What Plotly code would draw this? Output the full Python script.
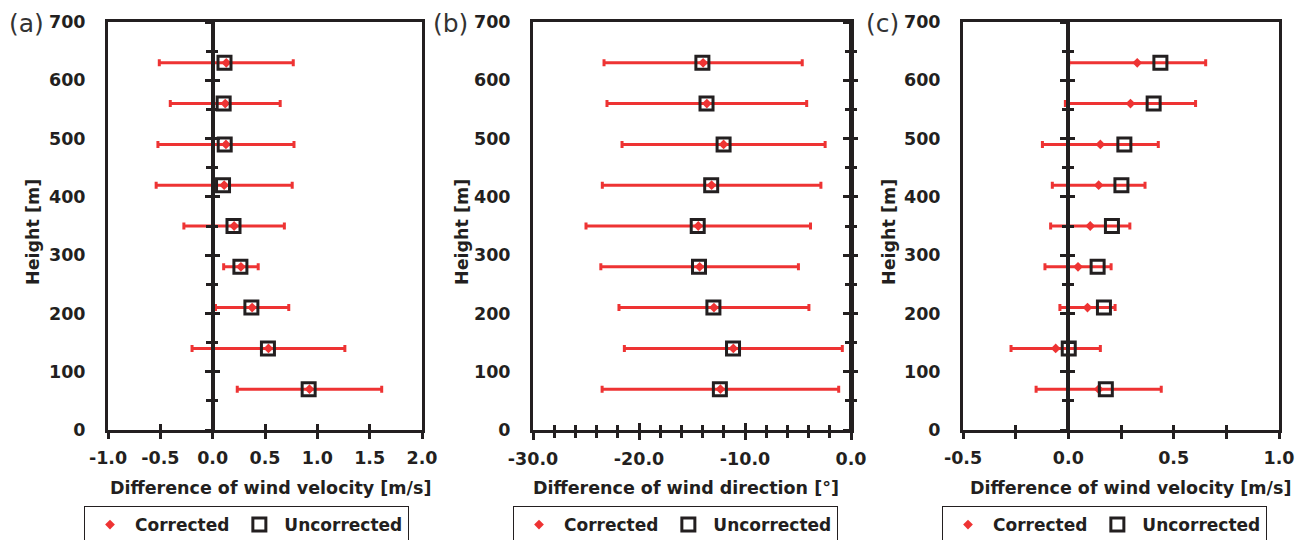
import plotly.graph_objects as go

W, H = 1305, 540
INK = "#231F20"
RED = "#EE3333"
BOLD = dict(family="DejaVu Sans", size=17.5, color=INK, weight="bold")

# ---------------- data ----------------
heights = [70, 140, 210, 280, 350, 420, 490, 560, 630]

# (a) wind velocity difference [m/s]
a_corrected = [0.925, 0.533, 0.377, 0.270, 0.205, 0.110, 0.127, 0.120, 0.130]
a_error = [0.69, 0.73, 0.35, 0.165, 0.48, 0.65, 0.65, 0.525, 0.64]
a_uncorrected = [0.917, 0.528, 0.370, 0.265, 0.199, 0.099, 0.115, 0.105, 0.113]

# (b) wind direction difference [deg]
b_corrected = [-12.32, -11.10, -12.93, -14.28, -14.41, -13.15, -12.02, -13.60, -13.95]
b_error = [11.16, 10.28, 8.96, 9.32, 10.59, 10.31, 9.58, 9.42, 9.35]
b_uncorrected = [-12.37, -11.13, -12.98, -14.34, -14.46, -13.19, -12.02, -13.63, -14.02]

# (c) wind velocity difference [m/s]
c_corrected = [0.144, -0.060, 0.091, 0.046, 0.104, 0.144, 0.152, 0.295, 0.327]
c_error = [0.297, 0.212, 0.131, 0.157, 0.188, 0.220, 0.275, 0.309, 0.325]
c_uncorrected = [0.178, 0.002, 0.169, 0.139, 0.207, 0.252, 0.266, 0.405, 0.437]

y_tickvals = [0, 100, 200, 300, 400, 500, 600, 700]
y_ticktext = ["0", "100", "200", "300", "400", "500", "600", "700"]

a_tickvals = [-1.0, -0.5, 0.0, 0.5, 1.0, 1.5, 2.0]
a_ticktext = ["-1.0", "-0.5", "0.0", "0.5", "1.0", "1.5", "2.0"]
b_tickvals = [-30, -20, -10, 0]
b_ticktext = ["-30.0", "-20.0", "-10.0", "0.0"]
c_tickvals = [-0.5, 0.0, 0.5, 1.0]
c_ticktext = ["-0.5", "0.0", "0.5", "1.0"]

series_names = ["Corrected", "Uncorrected"]
panel_labels = ["(a)", "(b)", "(c)"]
x_titles = ["Difference of wind velocity [m/s]",
            "Difference of wind direction [°]",
            "Difference of wind velocity [m/s]"]
y_title = "Height [m]"

# ---------------- layout geometry (pixels) ----------------
panels = [
    dict(corr=a_corrected, err=a_error, unc=a_uncorrected, xr=[-1, 2],
         tv=a_tickvals, tt=a_ticktext, minor=0.5, tl=6, mtl=6,
         px=(108, 422), ytx=33, xtx=270, lab=26, leg=84),
    dict(corr=b_corrected, err=b_error, unc=b_uncorrected, xr=[-30, 0],
         tv=b_tickvals, tt=b_ticktext, minor=2, tl=7, mtl=5,
         px=(533, 851), ytx=462, xtx=686, lab=450, leg=513),
    dict(corr=c_corrected, err=c_error, unc=c_uncorrected, xr=[-0.5, 1.0],
         tv=c_tickvals, tt=c_ticktext, minor=0.25, tl=5.5, mtl=5.5,
         px=(963, 1279), ytx=889, xtx=1130, lab=882, leg=942),
]
PY_TOP, PY_BOT = 22, 430
ydom = [1 - PY_BOT / H, 1 - PY_TOP / H]

fig = go.Figure()
layout = dict(template="none", width=W, height=H,
              margin=dict(l=0, r=0, t=0, b=0, autoexpand=False),
              plot_bgcolor="white", paper_bgcolor="white",
              showlegend=True, annotations=[])

for i, p in enumerate(panels):
    k = i + 1
    xs = "" if k == 1 else str(k)
    xid, yid = "x" + xs, "y" + xs
    legend_id = "legend" + xs
    xdom = [p["px"][0] / W, p["px"][1] / W]

    fig.add_trace(go.Scatter(
        x=p["corr"], y=heights, mode="markers", name=series_names[0],
        xaxis=xid, yaxis=yid, legend=legend_id,
        marker=dict(symbol="diamond", size=7.5, color=RED, line=dict(width=0)),
        error_x=dict(type="data", array=p["err"], visible=True,
                     color=RED, thickness=3, width=3.5),
    ))
    fig.add_trace(go.Scatter(
        x=p["unc"], y=heights, mode="markers", name=series_names[1],
        xaxis=xid, yaxis=yid, legend=legend_id,
        marker=dict(symbol="square-open", size=13, color=INK,
                    line=dict(width=3, color=INK)),
    ))

    minor = dict(tickmode="linear", tick0=p["xr"][0], dtick=p["minor"],
                 ticklen=p["mtl"], tickwidth=3, tickcolor=INK, showgrid=False)
    layout["xaxis" + xs] = dict(
        domain=xdom, range=p["xr"], anchor=yid, tickmode="array",
        tickvals=p["tv"], ticktext=p["tt"], ticks="outside", ticklen=p["tl"],
        tickwidth=3, tickcolor=INK, minor=dict(minor, ticks="outside"),
        showline=True, linewidth=3, linecolor=INK, mirror=True,
        showgrid=False, zeroline=False, tickfont=BOLD, ticklabelstandoff=4,
        automargin=False, fixedrange=True)
    layout["yaxis" + xs] = dict(
        domain=ydom, range=[0, 700], anchor=xid, tickmode="array",
        tickvals=y_tickvals, ticktext=y_ticktext, ticks="",
        showline=True, linewidth=3, linecolor=INK, mirror=True,
        showgrid=False, zeroline=False, tickfont=BOLD, ticklabelstandoff=16,
        automargin=False, fixedrange=True)

    # inward half of the crossing x ticks
    xo = str(4 + i)
    layout["xaxis" + xo] = dict(
        overlaying=xid, anchor=yid, side="bottom", range=p["xr"],
        tickmode="array", tickvals=p["tv"], ticks="inside", ticklen=p["tl"],
        tickwidth=3, tickcolor=INK, minor=dict(minor, ticks="inside"),
        showticklabels=False, showline=False, showgrid=False, zeroline=False,
        automargin=False, fixedrange=True)

    # vertical axis crossing at x = 0, with ticks on both sides
    zero_pos = (p["px"][0] + (0 - p["xr"][0]) / (p["xr"][1] - p["xr"][0])
                * (p["px"][1] - p["px"][0])) / W
    yminor = dict(tickmode="linear", tick0=0, dtick=50, ticklen=4.5,
                  tickwidth=3, tickcolor=INK, showgrid=False)
    for j, direction in enumerate(["outside", "inside"]):
        yo = str(4 + 2 * i + j)
        layout["yaxis" + yo] = dict(
            overlaying=yid, anchor="free", position=zero_pos, side="left",
            range=[0, 700], tickmode="array", tickvals=y_tickvals,
            ticks=direction, ticklen=6, tickwidth=3, tickcolor=INK,
            minor=dict(yminor, ticks=direction), showticklabels=False,
            showline=(j == 0), linewidth=4, linecolor=INK,
            showgrid=False, zeroline=False, automargin=False, fixedrange=True)
        fig.add_trace(go.Scatter(x=[], y=[], xaxis="x" + (xo if j else xs),
                                 yaxis="y" + yo, showlegend=False,
                                 hoverinfo="skip"))

    layout[legend_id] = dict(
        x=p["leg"] / W, y=1 - 506 / H, xanchor="left", yanchor="top",
        orientation="h", bordercolor=INK, borderwidth=1, bgcolor="white",
        font=dict(family="DejaVu Sans", size=17, color=INK, weight="bold"),
        itemwidth=40)

    layout["annotations"] += [
        dict(text=panel_labels[i], x=p["lab"] / W, y=1 - 23 / H,
             xref="paper", yref="paper", xanchor="center", yanchor="middle",
             showarrow=False,
             font=dict(family="DejaVu Sans", size=25, color="#333333")),
        dict(text=x_titles[i], x=p["xtx"] / W, y=1 - 488 / H,
             xref="paper", yref="paper", xanchor="center", yanchor="middle",
             showarrow=False, font=BOLD),
        dict(text=y_title, x=p["ytx"] / W, y=1 - 232 / H, textangle=-90,
             xref="paper", yref="paper", xanchor="center", yanchor="middle",
             showarrow=False, font=BOLD),
    ]

fig.update_layout(**layout)
fig.write_html("out.html")
